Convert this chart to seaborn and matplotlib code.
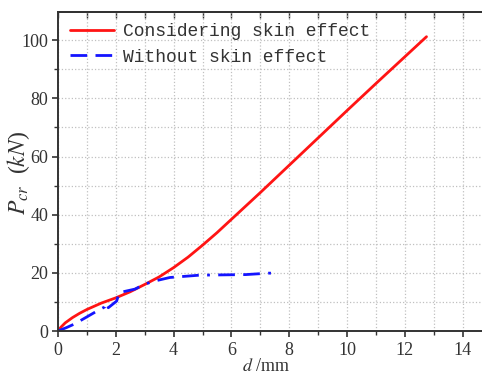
import matplotlib
matplotlib.use("Agg")
import matplotlib.pyplot as plt
import seaborn as sns
import pandas as pd
from matplotlib.ticker import MultipleLocator

# Data
d_skin = [0, 0.1, 0.25, 0.5, 0.75, 1.0, 1.5, 2.0, 2.5, 3.0, 3.5, 4.0, 4.5, 5.0, 5.5, 6.0, 7.0, 8.0, 9.0, 10.0, 11.0, 12.0, 12.75]
p_skin = [0, 1.3, 2.8, 4.6, 6.1, 7.4, 9.6, 11.4, 13.5, 16.0, 18.6, 21.8, 25.4, 29.5, 33.8, 38.4, 47.6, 57.0, 66.4, 75.8, 85.1, 94.3, 101.2]

d_noskin = [0, 0.3, 0.59, 0.99, 1.39, 1.62, 1.68, 1.74, 2.03, 2.08, 2.14, 2.3, 2.66, 3.0, 3.35, 3.87, 4.9, 6.5, 7.3, 7.65]
p_noskin = [0, 1.2, 2.5, 4.8, 7.1, 8.3, 9.7, 8.0, 10.3, 12.0, 13.3, 13.6, 14.4, 16.1, 17.2, 18.4, 19.2, 19.4, 19.9, 19.8]

labels = ["Considering skin effect", "Without skin effect"]

df = pd.concat([
    pd.DataFrame({"d": d_skin, "P": p_skin, "series": labels[0]}),
    pd.DataFrame({"d": d_noskin, "P": p_noskin, "series": labels[1]}),
], ignore_index=True)

sns.set_style("ticks")
plt.rcParams["font.family"] = ["Liberation Serif"]
plt.rcParams["mathtext.fontset"] = "stix"

W, H = 482, 374
fig = plt.figure(figsize=(W / 100, H / 100), dpi=100)
ax = fig.add_axes([58 / W, (H - 331) / H, (W - 58) / W, (331 - 11.7) / H])

sns.lineplot(data=df, x="d", y="P", hue="series", style="series",
             palette={labels[0]: "#ff1414", labels[1]: "#1414ff"},
             dashes={labels[0]: "", labels[1]: (6, 3, 6, 3, 1, 3)},
             sort=False, estimator=None, linewidth=2, ax=ax)

ax.set_xlim(0, 14.67)
ax.set_ylim(0, 109.8)
ax.xaxis.set_major_locator(MultipleLocator(2))
ax.xaxis.set_minor_locator(MultipleLocator(1))
ax.yaxis.set_major_locator(MultipleLocator(20))
ax.yaxis.set_minor_locator(MultipleLocator(10))
ax.grid(True, which="both", color="#c0c0c0", linestyle=":", linewidth=0.9)
ax.set_axisbelow(True)

for s in ["left", "bottom", "top"]:
    ax.spines[s].set_color("#333333")
    ax.spines[s].set_linewidth(1.4)
ax.spines["right"].set_visible(False)

ax.tick_params(axis="both", which="major", direction="out", length=4, width=1.2,
               colors="#333333", labelsize=13, labelcolor="#333333", pad=3)
ax.tick_params(axis="both", which="minor", direction="out", length=3, width=1.0, colors="#333333")
ax.tick_params(axis="x", which="major", pad=4)

# inward ticks along the top spine
top = ax.secondary_xaxis("top")
top.xaxis.set_major_locator(MultipleLocator(1))
top.tick_params(direction="in", length=4, width=1.0, colors="#333333", labeltop=False)
top.spines["top"].set_linewidth(1.4)
top.spines["top"].set_color("#333333")

ax.set_xlabel(r"$d$ /mm", fontsize=13, color="#333333")
ax.xaxis.set_label_coords(0.49, -0.083)
ax.set_ylabel(r"$P_{cr}$  ($kN$)", fontsize=17, color="#333333")
ax.yaxis.set_label_coords(-0.062, 0.495)

leg = ax.legend(loc="upper left", frameon=False, handlelength=2.45, handletextpad=0.5,
                borderaxespad=0.25, labelspacing=0.45,
                prop={"family": "Liberation Mono", "size": 13})
for lh in leg.get_lines():
    lh.set_linewidth(2)
for txt in leg.get_texts():
    txt.set_color("#333333")

fig.savefig("out.png", dpi=100)
